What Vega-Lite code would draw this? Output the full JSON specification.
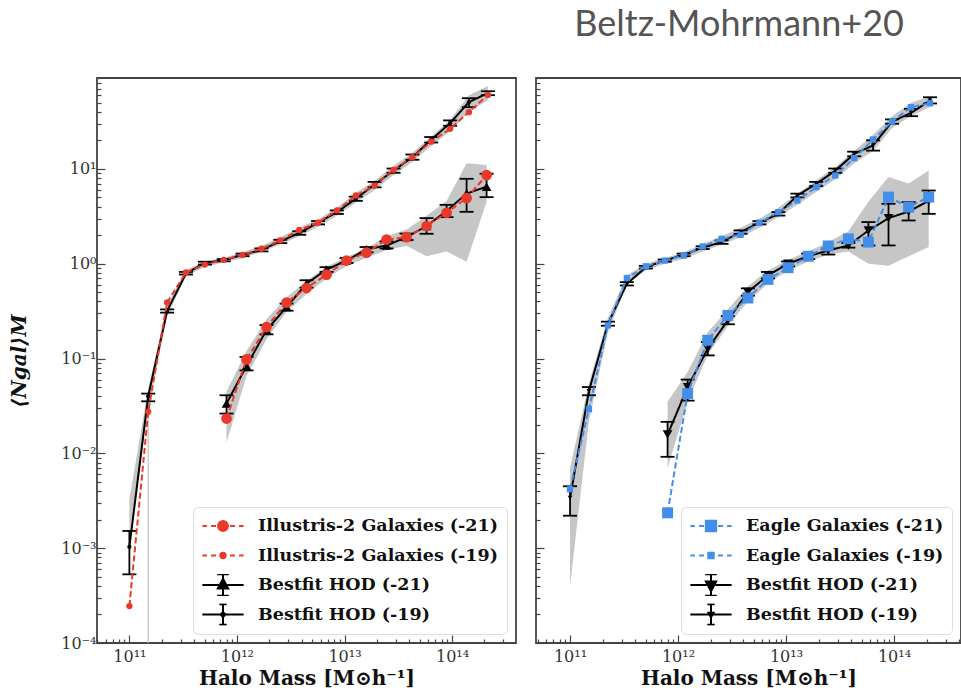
{
  "$schema": "https://vega.github.io/schema/vega-lite/v6.json",
  "padding": {"left": 8, "top": 6, "right": 4, "bottom": 0},
  "background": "white",
  "title": {"text": "Beltz-Mohrmann+20", "anchor": "end", "font": "Lato", "fontSize": 36, "fontWeight": "normal", "color": "#555555", "dx": -58, "offset": 26},
  "config": {
    "view": {"stroke": "#444444", "strokeWidth": 1.8},
    "concat": {"spacing": 17},
    "axis": {"domain": false, "grid": false, "tickColor": "#444444", "tickWidth": 1.2, "labelFont": "DejaVu Serif", "labelFontSize": 16, "labelColor": "#333333", "labelOverlap": false, "labelBound": false, "labelFlush": false, "titleFont": "DejaVu Serif", "titleColor": "#111111"},
    "legend": {"orient": "bottom-right", "offset": 9, "fillColor": "white", "strokeColor": "#dddddd", "cornerRadius": 5, "padding": 8, "labelFont": "DejaVu Serif", "labelFontWeight": "bold", "labelFontSize": 17.5, "labelLimit": 400, "labelColor": "#111111", "symbolSize": 1700, "symbolStrokeWidth": 2, "clipHeight": 22, "rowPadding": 7.5, "labelOffset": 13}
  },
  "datasets": {
    "pts": [
      {"p":"L","k":"sim","g":"21","s":"Illustris-2 Galaxies (-21)","M":8.0e11,"N":0.0233,"blo":0.013,"bhi":0.045},
      {"p":"L","k":"sim","g":"21","s":"Illustris-2 Galaxies (-21)","M":1.227e12,"N":0.098,"blo":0.065,"bhi":0.12},
      {"p":"L","k":"sim","g":"21","s":"Illustris-2 Galaxies (-21)","M":1.884e12,"N":0.215,"blo":0.16,"bhi":0.26},
      {"p":"L","k":"sim","g":"21","s":"Illustris-2 Galaxies (-21)","M":2.891e12,"N":0.39,"blo":0.31,"bhi":0.44},
      {"p":"L","k":"sim","g":"21","s":"Illustris-2 Galaxies (-21)","M":4.436e12,"N":0.554,"blo":0.48,"bhi":0.66},
      {"p":"L","k":"sim","g":"21","s":"Illustris-2 Galaxies (-21)","M":6.808e12,"N":0.766,"blo":0.7,"bhi":0.93},
      {"p":"L","k":"sim","g":"21","s":"Illustris-2 Galaxies (-21)","M":1.045e13,"N":1.08,"blo":0.95,"bhi":1.18},
      {"p":"L","k":"sim","g":"21","s":"Illustris-2 Galaxies (-21)","M":1.603e13,"N":1.31,"blo":1.15,"bhi":1.45},
      {"p":"L","k":"sim","g":"21","s":"Illustris-2 Galaxies (-21)","M":2.46e13,"N":1.8,"blo":1.4,"bhi":1.95},
      {"p":"L","k":"sim","g":"21","s":"Illustris-2 Galaxies (-21)","M":3.776e13,"N":1.91,"blo":1.55,"bhi":2.3},
      {"p":"L","k":"sim","g":"21","s":"Illustris-2 Galaxies (-21)","M":5.794e13,"N":2.5,"blo":1.2,"bhi":3.2},
      {"p":"L","k":"sim","g":"21","s":"Illustris-2 Galaxies (-21)","M":8.892e13,"N":3.45,"blo":1.35,"bhi":4.6},
      {"p":"L","k":"sim","g":"21","s":"Illustris-2 Galaxies (-21)","M":1.365e14,"N":4.92,"blo":1.05,"bhi":11.5},
      {"p":"L","k":"sim","g":"21","s":"Illustris-2 Galaxies (-21)","M":2.094e14,"N":8.6,"blo":4.5,"bhi":11},

      {"p":"L","k":"hod","g":"21","s":"Bestfit HOD (-21)","M":8.0e11,"N":0.0335,"lo":0.0263,"hi":0.041},
      {"p":"L","k":"hod","g":"21","s":"Bestfit HOD (-21)","M":1.227e12,"N":0.0836,"lo":0.075,"hi":0.104},
      {"p":"L","k":"hod","g":"21","s":"Bestfit HOD (-21)","M":1.884e12,"N":0.2,"lo":0.18,"hi":0.226},
      {"p":"L","k":"hod","g":"21","s":"Bestfit HOD (-21)","M":2.891e12,"N":0.35,"lo":0.32,"hi":0.38},
      {"p":"L","k":"hod","g":"21","s":"Bestfit HOD (-21)","M":4.436e12,"N":0.615,"lo":0.56,"hi":0.67},
      {"p":"L","k":"hod","g":"21","s":"Bestfit HOD (-21)","M":6.808e12,"N":0.87,"lo":0.82,"hi":0.92},
      {"p":"L","k":"hod","g":"21","s":"Bestfit HOD (-21)","M":1.045e13,"N":1.08,"lo":1.02,"hi":1.15},
      {"p":"L","k":"hod","g":"21","s":"Bestfit HOD (-21)","M":1.603e13,"N":1.42,"lo":1.32,"hi":1.5},
      {"p":"L","k":"hod","g":"21","s":"Bestfit HOD (-21)","M":2.46e13,"N":1.56,"lo":1.45,"hi":1.72},
      {"p":"L","k":"hod","g":"21","s":"Bestfit HOD (-21)","M":3.776e13,"N":1.91,"lo":1.78,"hi":2.08},
      {"p":"L","k":"hod","g":"21","s":"Bestfit HOD (-21)","M":5.794e13,"N":2.5,"lo":2.07,"hi":3.03},
      {"p":"L","k":"hod","g":"21","s":"Bestfit HOD (-21)","M":8.892e13,"N":3.6,"lo":3.1,"hi":4.18},
      {"p":"L","k":"hod","g":"21","s":"Bestfit HOD (-21)","M":1.365e14,"N":5.5,"lo":3.53,"hi":7.87},
      {"p":"L","k":"hod","g":"21","s":"Bestfit HOD (-21)","M":2.094e14,"N":6.5,"lo":5.04,"hi":8.9},

      {"p":"L","k":"sim","g":"19","s":"Illustris-2 Galaxies (-19)","M":1e11,"N":0.000245,"blo":0.0014,"bhi":0.0033},
      {"p":"L","k":"sim","g":"19","s":"Illustris-2 Galaxies (-19)","M":1.496e11,"N":0.0274,"blo":0.03,"bhi":0.048},
      {"p":"L","k":"sim","g":"19","s":"Illustris-2 Galaxies (-19)","M":2.244e11,"N":0.39,"blo":0.28,"bhi":0.36},
      {"p":"L","k":"sim","g":"19","s":"Illustris-2 Galaxies (-19)","M":3.357e11,"N":0.81,"blo":0.74,"bhi":0.86},
      {"p":"L","k":"sim","g":"19","s":"Illustris-2 Galaxies (-19)","M":5.035e11,"N":0.98,"blo":0.93,"bhi":1.06},
      {"p":"L","k":"sim","g":"19","s":"Illustris-2 Galaxies (-19)","M":7.534e11,"N":1.1,"blo":1.03,"bhi":1.16},
      {"p":"L","k":"sim","g":"19","s":"Illustris-2 Galaxies (-19)","M":1.127e12,"N":1.24,"blo":1.15,"bhi":1.32},
      {"p":"L","k":"sim","g":"19","s":"Illustris-2 Galaxies (-19)","M":1.69e12,"N":1.44,"blo":1.33,"bhi":1.55},
      {"p":"L","k":"sim","g":"19","s":"Illustris-2 Galaxies (-19)","M":2.529e12,"N":1.76,"blo":1.6,"bhi":1.9},
      {"p":"L","k":"sim","g":"19","s":"Illustris-2 Galaxies (-19)","M":3.793e12,"N":2.27,"blo":1.95,"bhi":2.4},
      {"p":"L","k":"sim","g":"19","s":"Illustris-2 Galaxies (-19)","M":5.675e12,"N":2.71,"blo":2.45,"bhi":2.95},
      {"p":"L","k":"sim","g":"19","s":"Illustris-2 Galaxies (-19)","M":8.492e12,"N":3.65,"blo":3.2,"bhi":3.9},
      {"p":"L","k":"sim","g":"19","s":"Illustris-2 Galaxies (-19)","M":1.274e13,"N":5.25,"blo":4.4,"bhi":5.6},
      {"p":"L","k":"sim","g":"19","s":"Illustris-2 Galaxies (-19)","M":1.905e13,"N":6.68,"blo":6.0,"bhi":7.5},
      {"p":"L","k":"sim","g":"19","s":"Illustris-2 Galaxies (-19)","M":2.858e13,"N":9.78,"blo":8.6,"bhi":10.8},
      {"p":"L","k":"sim","g":"19","s":"Illustris-2 Galaxies (-19)","M":4.276e13,"N":13.3,"blo":11.8,"bhi":14.8},
      {"p":"L","k":"sim","g":"19","s":"Illustris-2 Galaxies (-19)","M":6.397e13,"N":19.4,"blo":17.5,"bhi":22},
      {"p":"L","k":"sim","g":"19","s":"Illustris-2 Galaxies (-19)","M":9.594e13,"N":26.5,"blo":25,"bhi":33},
      {"p":"L","k":"sim","g":"19","s":"Illustris-2 Galaxies (-19)","M":1.435e14,"N":39.7,"blo":40,"bhi":60},
      {"p":"L","k":"sim","g":"19","s":"Illustris-2 Galaxies (-19)","M":2.153e14,"N":60.4,"blo":53,"bhi":75},

      {"p":"L","k":"hod","g":"19","s":"Bestfit HOD (-19)","M":1e11,"N":0.00103,"lo":0.00053,"hi":0.00152},
      {"p":"L","k":"hod","g":"19","s":"Bestfit HOD (-19)","M":1.496e11,"N":0.04,"lo":0.0354,"hi":0.0427},
      {"p":"L","k":"hod","g":"19","s":"Bestfit HOD (-19)","M":2.244e11,"N":0.318,"lo":0.305,"hi":0.33},
      {"p":"L","k":"hod","g":"19","s":"Bestfit HOD (-19)","M":3.357e11,"N":0.79,"lo":0.77,"hi":0.82},
      {"p":"L","k":"hod","g":"19","s":"Bestfit HOD (-19)","M":5.035e11,"N":1.02,"lo":0.98,"hi":1.05},
      {"p":"L","k":"hod","g":"19","s":"Bestfit HOD (-19)","M":7.534e11,"N":1.09,"lo":1.06,"hi":1.12},
      {"p":"L","k":"hod","g":"19","s":"Bestfit HOD (-19)","M":1.127e12,"N":1.24,"lo":1.2,"hi":1.28},
      {"p":"L","k":"hod","g":"19","s":"Bestfit HOD (-19)","M":1.69e12,"N":1.4,"lo":1.35,"hi":1.45},
      {"p":"L","k":"hod","g":"19","s":"Bestfit HOD (-19)","M":2.529e12,"N":1.72,"lo":1.65,"hi":1.79},
      {"p":"L","k":"hod","g":"19","s":"Bestfit HOD (-19)","M":3.793e12,"N":2.11,"lo":2.02,"hi":2.2},
      {"p":"L","k":"hod","g":"19","s":"Bestfit HOD (-19)","M":5.675e12,"N":2.71,"lo":2.6,"hi":2.82},
      {"p":"L","k":"hod","g":"19","s":"Bestfit HOD (-19)","M":8.492e12,"N":3.5,"lo":3.35,"hi":3.65},
      {"p":"L","k":"hod","g":"19","s":"Bestfit HOD (-19)","M":1.274e13,"N":4.84,"lo":4.6,"hi":5.1},
      {"p":"L","k":"hod","g":"19","s":"Bestfit HOD (-19)","M":1.905e13,"N":6.85,"lo":6.4,"hi":7.3},
      {"p":"L","k":"hod","g":"19","s":"Bestfit HOD (-19)","M":2.858e13,"N":9.6,"lo":9.1,"hi":10.1},
      {"p":"L","k":"hod","g":"19","s":"Bestfit HOD (-19)","M":4.276e13,"N":13.3,"lo":12.5,"hi":14.2},
      {"p":"L","k":"hod","g":"19","s":"Bestfit HOD (-19)","M":6.397e13,"N":20.3,"lo":19,"hi":21.7},
      {"p":"L","k":"hod","g":"19","s":"Bestfit HOD (-19)","M":9.594e13,"N":30.4,"lo":28.5,"hi":32.5},
      {"p":"L","k":"hod","g":"19","s":"Bestfit HOD (-19)","M":1.435e14,"N":50.6,"lo":44.8,"hi":55.7},
      {"p":"L","k":"hod","g":"19","s":"Bestfit HOD (-19)","M":2.153e14,"N":62.9,"lo":60,"hi":66},

      {"p":"R","k":"sim","g":"21","s":"Eagle Galaxies (-21)","M":8.0e11,"N":0.00236,"blo":0.007,"bhi":0.035},
      {"p":"R","k":"sim","g":"21","s":"Eagle Galaxies (-21)","M":1.227e12,"N":0.0427,"blo":0.035,"bhi":0.072},
      {"p":"R","k":"sim","g":"21","s":"Eagle Galaxies (-21)","M":1.884e12,"N":0.156,"blo":0.11,"bhi":0.19},
      {"p":"R","k":"sim","g":"21","s":"Eagle Galaxies (-21)","M":2.891e12,"N":0.285,"blo":0.22,"bhi":0.33},
      {"p":"R","k":"sim","g":"21","s":"Eagle Galaxies (-21)","M":4.436e12,"N":0.435,"blo":0.4,"bhi":0.58},
      {"p":"R","k":"sim","g":"21","s":"Eagle Galaxies (-21)","M":6.808e12,"N":0.684,"blo":0.62,"bhi":0.85},
      {"p":"R","k":"sim","g":"21","s":"Eagle Galaxies (-21)","M":1.045e13,"N":0.908,"blo":0.85,"bhi":1.1},
      {"p":"R","k":"sim","g":"21","s":"Eagle Galaxies (-21)","M":1.603e13,"N":1.2,"blo":1.05,"bhi":1.35},
      {"p":"R","k":"sim","g":"21","s":"Eagle Galaxies (-21)","M":2.46e13,"N":1.54,"blo":1.25,"bhi":1.7},
      {"p":"R","k":"sim","g":"21","s":"Eagle Galaxies (-21)","M":3.776e13,"N":1.83,"blo":1.35,"bhi":2.2},
      {"p":"R","k":"sim","g":"21","s":"Eagle Galaxies (-21)","M":5.794e13,"N":1.69,"blo":1.0,"bhi":4.5},
      {"p":"R","k":"sim","g":"21","s":"Eagle Galaxies (-21)","M":8.892e13,"N":5.05,"blo":0.95,"bhi":8.2},
      {"p":"R","k":"sim","g":"21","s":"Eagle Galaxies (-21)","M":1.365e14,"N":3.96,"blo":1.2,"bhi":7.0},
      {"p":"R","k":"sim","g":"21","s":"Eagle Galaxies (-21)","M":2.094e14,"N":5.05,"blo":1.5,"bhi":9.6},

      {"p":"R","k":"hod","g":"21","s":"Bestfit HOD (-21)","M":8.0e11,"N":0.0158,"lo":0.0092,"hi":0.0215},
      {"p":"R","k":"hod","g":"21","s":"Bestfit HOD (-21)","M":1.227e12,"N":0.05,"lo":0.036,"hi":0.06},
      {"p":"R","k":"hod","g":"21","s":"Bestfit HOD (-21)","M":1.884e12,"N":0.127,"lo":0.108,"hi":0.15},
      {"p":"R","k":"hod","g":"21","s":"Bestfit HOD (-21)","M":2.891e12,"N":0.253,"lo":0.23,"hi":0.28},
      {"p":"R","k":"hod","g":"21","s":"Bestfit HOD (-21)","M":4.436e12,"N":0.503,"lo":0.46,"hi":0.55},
      {"p":"R","k":"hod","g":"21","s":"Bestfit HOD (-21)","M":6.808e12,"N":0.753,"lo":0.7,"hi":0.82},
      {"p":"R","k":"hod","g":"21","s":"Bestfit HOD (-21)","M":1.045e13,"N":1.0,"lo":0.94,"hi":1.06},
      {"p":"R","k":"hod","g":"21","s":"Bestfit HOD (-21)","M":1.603e13,"N":1.2,"lo":1.12,"hi":1.28},
      {"p":"R","k":"hod","g":"21","s":"Bestfit HOD (-21)","M":2.46e13,"N":1.38,"lo":1.25,"hi":1.45},
      {"p":"R","k":"hod","g":"21","s":"Bestfit HOD (-21)","M":3.776e13,"N":1.56,"lo":1.48,"hi":1.65},
      {"p":"R","k":"hod","g":"21","s":"Bestfit HOD (-21)","M":5.794e13,"N":2.24,"lo":1.56,"hi":2.75},
      {"p":"R","k":"hod","g":"21","s":"Bestfit HOD (-21)","M":8.892e13,"N":3.03,"lo":1.56,"hi":4.29},
      {"p":"R","k":"hod","g":"21","s":"Bestfit HOD (-21)","M":1.365e14,"N":3.56,"lo":2.86,"hi":4.47},
      {"p":"R","k":"hod","g":"21","s":"Bestfit HOD (-21)","M":2.094e14,"N":4.6,"lo":3.36,"hi":5.92},

      {"p":"R","k":"sim","g":"19","s":"Eagle Galaxies (-19)","M":1e11,"N":0.00419,"blo":0.0004,"bhi":0.007},
      {"p":"R","k":"sim","g":"19","s":"Eagle Galaxies (-19)","M":1.496e11,"N":0.0292,"blo":0.022,"bhi":0.055},
      {"p":"R","k":"sim","g":"19","s":"Eagle Galaxies (-19)","M":2.244e11,"N":0.224,"blo":0.19,"bhi":0.27},
      {"p":"R","k":"sim","g":"19","s":"Eagle Galaxies (-19)","M":3.357e11,"N":0.707,"blo":0.6,"bhi":0.75},
      {"p":"R","k":"sim","g":"19","s":"Eagle Galaxies (-19)","M":5.035e11,"N":0.94,"blo":0.85,"bhi":1.0},
      {"p":"R","k":"sim","g":"19","s":"Eagle Galaxies (-19)","M":7.534e11,"N":1.08,"blo":1.0,"bhi":1.15},
      {"p":"R","k":"sim","g":"19","s":"Eagle Galaxies (-19)","M":1.127e12,"N":1.22,"blo":1.12,"bhi":1.32},
      {"p":"R","k":"sim","g":"19","s":"Eagle Galaxies (-19)","M":1.69e12,"N":1.52,"blo":1.35,"bhi":1.62},
      {"p":"R","k":"sim","g":"19","s":"Eagle Galaxies (-19)","M":2.529e12,"N":1.83,"blo":1.6,"bhi":1.95},
      {"p":"R","k":"sim","g":"19","s":"Eagle Galaxies (-19)","M":3.793e12,"N":2.02,"blo":1.9,"bhi":2.4},
      {"p":"R","k":"sim","g":"19","s":"Eagle Galaxies (-19)","M":5.675e12,"N":2.71,"blo":2.4,"bhi":3.0},
      {"p":"R","k":"sim","g":"19","s":"Eagle Galaxies (-19)","M":8.492e12,"N":3.5,"blo":3.1,"bhi":3.9},
      {"p":"R","k":"sim","g":"19","s":"Eagle Galaxies (-19)","M":1.274e13,"N":4.65,"blo":4.2,"bhi":5.5},
      {"p":"R","k":"sim","g":"19","s":"Eagle Galaxies (-19)","M":1.905e13,"N":6.43,"blo":5.7,"bhi":7.6},
      {"p":"R","k":"sim","g":"19","s":"Eagle Galaxies (-19)","M":2.858e13,"N":8.52,"blo":7.8,"bhi":10.5},
      {"p":"R","k":"sim","g":"19","s":"Eagle Galaxies (-19)","M":4.276e13,"N":13.0,"blo":11.5,"bhi":15.5},
      {"p":"R","k":"sim","g":"19","s":"Eagle Galaxies (-19)","M":6.397e13,"N":20.4,"blo":15.5,"bhi":23},
      {"p":"R","k":"sim","g":"19","s":"Eagle Galaxies (-19)","M":9.594e13,"N":31.6,"blo":27,"bhi":36},
      {"p":"R","k":"sim","g":"19","s":"Eagle Galaxies (-19)","M":1.435e14,"N":44.8,"blo":36,"bhi":50},
      {"p":"R","k":"sim","g":"19","s":"Eagle Galaxies (-19)","M":2.153e14,"N":49.3,"blo":45,"bhi":58},

      {"p":"R","k":"hod","g":"19","s":"Bestfit HOD (-19)","M":1e11,"N":0.0034,"lo":0.0022,"hi":0.0045},
      {"p":"R","k":"hod","g":"19","s":"Bestfit HOD (-19)","M":1.496e11,"N":0.0455,"lo":0.041,"hi":0.05},
      {"p":"R","k":"hod","g":"19","s":"Bestfit HOD (-19)","M":2.244e11,"N":0.233,"lo":0.222,"hi":0.245},
      {"p":"R","k":"hod","g":"19","s":"Bestfit HOD (-19)","M":3.357e11,"N":0.615,"lo":0.59,"hi":0.64},
      {"p":"R","k":"hod","g":"19","s":"Bestfit HOD (-19)","M":5.035e11,"N":0.92,"lo":0.89,"hi":0.95},
      {"p":"R","k":"hod","g":"19","s":"Bestfit HOD (-19)","M":7.534e11,"N":1.08,"lo":1.05,"hi":1.11},
      {"p":"R","k":"hod","g":"19","s":"Bestfit HOD (-19)","M":1.127e12,"N":1.24,"lo":1.2,"hi":1.28},
      {"p":"R","k":"hod","g":"19","s":"Bestfit HOD (-19)","M":1.69e12,"N":1.48,"lo":1.43,"hi":1.53},
      {"p":"R","k":"hod","g":"19","s":"Bestfit HOD (-19)","M":2.529e12,"N":1.69,"lo":1.62,"hi":1.76},
      {"p":"R","k":"hod","g":"19","s":"Bestfit HOD (-19)","M":3.793e12,"N":2.16,"lo":2.07,"hi":2.25},
      {"p":"R","k":"hod","g":"19","s":"Bestfit HOD (-19)","M":5.675e12,"N":2.71,"lo":2.6,"hi":2.82},
      {"p":"R","k":"hod","g":"19","s":"Bestfit HOD (-19)","M":8.492e12,"N":3.36,"lo":3.22,"hi":3.5},
      {"p":"R","k":"hod","g":"19","s":"Bestfit HOD (-19)","M":1.274e13,"N":5.25,"lo":5.0,"hi":5.5},
      {"p":"R","k":"hod","g":"19","s":"Bestfit HOD (-19)","M":1.905e13,"N":6.96,"lo":6.6,"hi":7.3},
      {"p":"R","k":"hod","g":"19","s":"Bestfit HOD (-19)","M":2.858e13,"N":9.6,"lo":9.1,"hi":10.1},
      {"p":"R","k":"hod","g":"19","s":"Bestfit HOD (-19)","M":4.276e13,"N":14.4,"lo":13.6,"hi":15.2},
      {"p":"R","k":"hod","g":"19","s":"Bestfit HOD (-19)","M":6.397e13,"N":17.7,"lo":15.6,"hi":20},
      {"p":"R","k":"hod","g":"19","s":"Bestfit HOD (-19)","M":9.594e13,"N":31.6,"lo":30,"hi":33.3},
      {"p":"R","k":"hod","g":"19","s":"Bestfit HOD (-19)","M":1.435e14,"N":39,"lo":36,"hi":43},
      {"p":"R","k":"hod","g":"19","s":"Bestfit HOD (-19)","M":2.153e14,"N":52.6,"lo":49,"hi":57}
    ],
    "drop": [
      {"p":"L","M":1.496e11,"y1":0.0001,"y2":0.03}
    ]
  },
  "hconcat": [
    {
      "width": 419,
      "height": 565,
      "encoding": {
        "x": {"field": "M", "type": "quantitative",
          "scale": {"type": "log", "domain": [5.0e10, 3.93e14], "nice": false},
          "axis": {
            "title": "Halo Mass [M⊙h⁻¹]", "titleFontSize": 20, "titleFontWeight": "bold", "titlePadding": 0,
            "values": [5e10,6e10,7e10,8e10,9e10,1e11,2e11,3e11,4e11,5e11,6e11,7e11,8e11,9e11,1e12,2e12,3e12,4e12,5e12,6e12,7e12,8e12,9e12,1e13,2e13,3e13,4e13,5e13,6e13,7e13,8e13,9e13,1e14,2e14,3e14],
            "labelExpr": "datum.value === 1e11 ? '10¹¹' : datum.value === 1e12 ? '10¹²' : datum.value === 1e13 ? '10¹³' : datum.value === 1e14 ? '10¹⁴' : ''",
            "tickSize": {"condition": {"test": "abs(log(datum.value)/LN10 - round(log(datum.value)/LN10)) < 0.000001", "value": -8}, "value": -4},
            "labelPadding": 13
          }
        }
      },
      "layer": [
        {
          "data": {"name": "pts"},
          "transform": [{"filter": "datum.p === 'L' && datum.k === 'sim'"}],
          "mark": {"type": "area", "color": "#c6c6c6", "opacity": 1},
          "encoding": {
            "y": {"field": "blo", "type": "quantitative",
              "scale": {"type": "log", "domain": [0.0001, 91], "nice": false},
              "axis": {
                "title": "⟨Ngal⟩M", "titleFontSize": 20, "titleFontStyle": "italic", "titleFontWeight": "bold", "titlePadding": 31,
                "values": [0.0001,0.0002,0.0003,0.0004,0.0005,0.0006,0.0007,0.0008,0.0009,0.001,0.002,0.003,0.004,0.005,0.006,0.007,0.008,0.009,0.01,0.02,0.03,0.04,0.05,0.06,0.07,0.08,0.09,0.1,0.2,0.3,0.4,0.5,0.6,0.7,0.8,0.9,1,2,3,4,5,6,7,8,9,10,20,30,40,50,60,70,80,90],
                "labelExpr": "datum.value === 10 ? '10¹' : datum.value === 1 ? '10⁰' : datum.value === 0.1 ? '10⁻¹' : datum.value === 0.01 ? '10⁻²' : datum.value === 0.001 ? '10⁻³' : datum.value === 0.0001 ? '10⁻⁴' : ''",
                "tickSize": {"condition": {"test": "abs(log(datum.value)/LN10 - round(log(datum.value)/LN10)) < 0.000001", "value": -8}, "value": -4},
                "labelPadding": 9
              }},
            "y2": {"field": "bhi"},
            "detail": {"field": "g"}
          }
        },
        {
          "data": {"name": "drop"},
          "mark": {"type": "rule", "color": "#c0c0c0", "strokeWidth": 1.2},
          "encoding": {
            "y": {"field": "y1", "type": "quantitative", "scale": {"type": "log", "domain": [0.0001, 91], "nice": false}},
            "y2": {"field": "y2"}
          }
        },
        {
          "data": {"name": "pts"},
          "transform": [{"filter": "datum.p === 'L' && datum.k === 'hod'"}],
          "mark": {"type": "rule", "color": "black", "strokeWidth": 1.8},
          "encoding": {
            "y": {"field": "lo", "type": "quantitative", "scale": {"type": "log", "domain": [0.0001, 91], "nice": false}},
            "y2": {"field": "hi"}
          }
        },
        {
          "data": {"name": "pts"},
          "transform": [{"filter": "datum.p === 'L' && datum.k === 'hod'"}],
          "mark": {"type": "tick", "orient": "horizontal", "color": "black", "size": 14, "thickness": 1.8, "opacity": 1},
          "encoding": {
            "y": {"field": "lo", "type": "quantitative", "scale": {"type": "log", "domain": [0.0001, 91], "nice": false}}
          }
        },
        {
          "data": {"name": "pts"},
          "transform": [{"filter": "datum.p === 'L' && datum.k === 'hod'"}],
          "mark": {"type": "tick", "orient": "horizontal", "color": "black", "size": 14, "thickness": 1.8, "opacity": 1},
          "encoding": {
            "y": {"field": "hi", "type": "quantitative", "scale": {"type": "log", "domain": [0.0001, 91], "nice": false}}
          }
        },
        {
          "data": {"name": "pts"},
          "transform": [{"filter": "datum.p === 'L' && datum.k === 'hod'"}],
          "mark": {"type": "line", "strokeWidth": 2},
          "encoding": {
            "y": {"field": "N", "type": "quantitative", "scale": {"type": "log", "domain": [0.0001, 91], "nice": false}},
            "color": {"field": "s", "type": "nominal",
              "scale": {"domain": ["Illustris-2 Galaxies (-21)", "Illustris-2 Galaxies (-19)", "Bestfit HOD (-21)", "Bestfit HOD (-19)"], "range": ["#e8392b", "#e8392b", "#000000", "#000000"]},
              "legend": {
                "title": null,
                "labelFont": "DejaVu Serif", "labelFontWeight": "bold", "labelFontSize": 17.5, "labelLimit": 400,
                "encode": {
                  "symbols": {
                    "update": {
                      "shape": [
                        {"test": "datum.value === 'Illustris-2 Galaxies (-21)'", "value": "M-1,0H-0.78M-0.58,0H-0.34M0.34,0H0.58M0.78,0H1M-0.24,0A0.24,0.24 0 1,1 0.24,0A0.24,0.24 0 1,1 -0.24,0Z"},
                        {"test": "datum.value === 'Illustris-2 Galaxies (-19)'", "value": "M-1,0H-0.78M-0.58,0H-0.34M-0.16,0H0.16M0.34,0H0.58M0.78,0H1M-0.13,0A0.13,0.13 0 1,1 0.13,0A0.13,0.13 0 1,1 -0.13,0Z"},
                        {"test": "datum.value === 'Bestfit HOD (-21)'", "value": "M-1,0H1M0,-0.52V0.52M-0.28,-0.52H0.28M-0.28,0.52H0.28M0,-0.3L0.25,0.17L-0.25,0.17Z"},
                        {"value": "M-1,0H1M0,-0.5V0.5M-0.18,-0.5H0.18M-0.18,0.5H0.18M-0.09,0A0.09,0.09 0 1,1 0.09,0A0.09,0.09 0 1,1 -0.09,0Z"}
                      ],
                      "fill": [
                        {"test": "indexof(datum.value, 'Galaxies') >= 0", "value": "#e8392b"},
                        {"value": "#000000"}
                      ],
                      "stroke": [
                        {"test": "indexof(datum.value, 'Galaxies') >= 0", "value": "#e8392b"},
                        {"value": "#000000"}
                      ],
                      "strokeWidth": {"value": 2},
                      "opacity": {"value": 1}
                    }
                  }
                }
              }
            },
            "detail": {"field": "s"}
          }
        },
        {
          "data": {"name": "pts"},
          "transform": [{"filter": "datum.p === 'L' && datum.k === 'hod' && datum.g === '21'"}],
          "mark": {"type": "point", "shape": "triangle-up", "filled": true, "size": 95, "opacity": 1},
          "encoding": {
            "y": {"field": "N", "type": "quantitative", "scale": {"type": "log", "domain": [0.0001, 91], "nice": false}},
            "color": {"field": "s", "type": "nominal"}
          }
        },
        {
          "data": {"name": "pts"},
          "transform": [{"filter": "datum.p === 'L' && datum.k === 'hod' && datum.g === '19'"}],
          "mark": {"type": "point", "shape": "circle", "filled": true, "size": 18, "opacity": 1},
          "encoding": {
            "y": {"field": "N", "type": "quantitative", "scale": {"type": "log", "domain": [0.0001, 91], "nice": false}},
            "color": {"field": "s", "type": "nominal"}
          }
        },
        {
          "data": {"name": "pts"},
          "transform": [{"filter": "datum.p === 'L' && datum.k === 'sim'"}],
          "mark": {"type": "line", "strokeWidth": 2, "strokeDash": [6, 3]},
          "encoding": {
            "y": {"field": "N", "type": "quantitative", "scale": {"type": "log", "domain": [0.0001, 91], "nice": false}},
            "color": {"field": "s", "type": "nominal"},
            "detail": {"field": "s"}
          }
        },
        {
          "data": {"name": "pts"},
          "transform": [{"filter": "datum.p === 'L' && datum.k === 'sim' && datum.g === '21'"}],
          "mark": {"type": "point", "shape": "circle", "filled": true, "size": 115, "opacity": 1},
          "encoding": {
            "y": {"field": "N", "type": "quantitative", "scale": {"type": "log", "domain": [0.0001, 91], "nice": false}},
            "color": {"field": "s", "type": "nominal"}
          }
        },
        {
          "data": {"name": "pts"},
          "transform": [{"filter": "datum.p === 'L' && datum.k === 'sim' && datum.g === '19'"}],
          "mark": {"type": "point", "shape": "circle", "filled": true, "size": 40, "opacity": 1},
          "encoding": {
            "y": {"field": "N", "type": "quantitative", "scale": {"type": "log", "domain": [0.0001, 91], "nice": false}},
            "color": {"field": "s", "type": "nominal"}
          }
        }
      ]
    },
    {
      "width": 425,
      "height": 565,
      "encoding": {
        "x": {"field": "M", "type": "quantitative",
          "scale": {"type": "log", "domain": [4.84e10, 4.17e14], "nice": false},
          "axis": {
            "title": "Halo Mass [M⊙h⁻¹]", "titleFontSize": 20, "titleFontWeight": "bold", "titlePadding": 0,
            "values": [5e10,6e10,7e10,8e10,9e10,1e11,2e11,3e11,4e11,5e11,6e11,7e11,8e11,9e11,1e12,2e12,3e12,4e12,5e12,6e12,7e12,8e12,9e12,1e13,2e13,3e13,4e13,5e13,6e13,7e13,8e13,9e13,1e14,2e14,3e14,4e14],
            "labelExpr": "datum.value === 1e11 ? '10¹¹' : datum.value === 1e12 ? '10¹²' : datum.value === 1e13 ? '10¹³' : datum.value === 1e14 ? '10¹⁴' : ''",
            "tickSize": {"condition": {"test": "abs(log(datum.value)/LN10 - round(log(datum.value)/LN10)) < 0.000001", "value": -8}, "value": -4},
            "labelPadding": 13
          }
        }
      },
      "layer": [
        {
          "data": {"name": "pts"},
          "transform": [{"filter": "datum.p === 'R' && datum.k === 'sim'"}],
          "mark": {"type": "area", "color": "#c6c6c6", "opacity": 1},
          "encoding": {
            "y": {"field": "blo", "type": "quantitative",
              "scale": {"type": "log", "domain": [0.0001, 91], "nice": false},
              "axis": {
                "title": null, "labels": false,
                "values": [0.0001,0.0002,0.0003,0.0004,0.0005,0.0006,0.0007,0.0008,0.0009,0.001,0.002,0.003,0.004,0.005,0.006,0.007,0.008,0.009,0.01,0.02,0.03,0.04,0.05,0.06,0.07,0.08,0.09,0.1,0.2,0.3,0.4,0.5,0.6,0.7,0.8,0.9,1,2,3,4,5,6,7,8,9,10,20,30,40,50,60,70,80,90],
                "tickSize": {"condition": {"test": "abs(log(datum.value)/LN10 - round(log(datum.value)/LN10)) < 0.000001", "value": -8}, "value": -4}
              }},
            "y2": {"field": "bhi"},
            "detail": {"field": "g"}
          }
        },
        {
          "data": {"name": "pts"},
          "transform": [{"filter": "datum.p === 'R' && datum.k === 'hod'"}],
          "mark": {"type": "rule", "color": "black", "strokeWidth": 1.8},
          "encoding": {
            "y": {"field": "lo", "type": "quantitative", "scale": {"type": "log", "domain": [0.0001, 91], "nice": false}},
            "y2": {"field": "hi"}
          }
        },
        {
          "data": {"name": "pts"},
          "transform": [{"filter": "datum.p === 'R' && datum.k === 'hod'"}],
          "mark": {"type": "tick", "orient": "horizontal", "color": "black", "size": 14, "thickness": 1.8, "opacity": 1},
          "encoding": {
            "y": {"field": "lo", "type": "quantitative", "scale": {"type": "log", "domain": [0.0001, 91], "nice": false}}
          }
        },
        {
          "data": {"name": "pts"},
          "transform": [{"filter": "datum.p === 'R' && datum.k === 'hod'"}],
          "mark": {"type": "tick", "orient": "horizontal", "color": "black", "size": 14, "thickness": 1.8, "opacity": 1},
          "encoding": {
            "y": {"field": "hi", "type": "quantitative", "scale": {"type": "log", "domain": [0.0001, 91], "nice": false}}
          }
        },
        {
          "data": {"name": "pts"},
          "transform": [{"filter": "datum.p === 'R' && datum.k === 'hod'"}],
          "mark": {"type": "line", "strokeWidth": 2},
          "encoding": {
            "y": {"field": "N", "type": "quantitative", "scale": {"type": "log", "domain": [0.0001, 91], "nice": false}},
            "color": {"field": "s", "type": "nominal",
              "scale": {"domain": ["Eagle Galaxies (-21)", "Eagle Galaxies (-19)", "Bestfit HOD (-21)", "Bestfit HOD (-19)"], "range": ["#428ee8", "#428ee8", "#000000", "#000000"]},
              "legend": {
                "title": null,
                "labelFont": "DejaVu Serif", "labelFontWeight": "bold", "labelFontSize": 17.5, "labelLimit": 400,
                "encode": {
                  "symbols": {
                    "update": {
                      "shape": [
                        {"test": "datum.value === 'Eagle Galaxies (-21)'", "value": "M-1,0H-0.78M-0.58,0H-0.34M0.34,0H0.58M0.78,0H1M-0.25,-0.25H0.25V0.25H-0.25Z"},
                        {"test": "datum.value === 'Eagle Galaxies (-19)'", "value": "M-1,0H-0.78M-0.58,0H-0.34M-0.16,0H0.16M0.34,0H0.58M0.78,0H1M-0.13,-0.13H0.13V0.13H-0.13Z"},
                        {"test": "datum.value === 'Bestfit HOD (-21)'", "value": "M-1,0H1M0,-0.52V0.52M-0.28,-0.52H0.28M-0.28,0.52H0.28M0,0.3L0.25,-0.17L-0.25,-0.17Z"},
                        {"value": "M-1,0H1M0,-0.5V0.5M-0.18,-0.5H0.18M-0.18,0.5H0.18M0,0.14L0.12,-0.08L-0.12,-0.08Z"}
                      ],
                      "fill": [
                        {"test": "indexof(datum.value, 'Galaxies') >= 0", "value": "#428ee8"},
                        {"value": "#000000"}
                      ],
                      "stroke": [
                        {"test": "indexof(datum.value, 'Galaxies') >= 0", "value": "#428ee8"},
                        {"value": "#000000"}
                      ],
                      "strokeWidth": {"value": 2},
                      "opacity": {"value": 1}
                    }
                  }
                }
              }
            },
            "detail": {"field": "s"}
          }
        },
        {
          "data": {"name": "pts"},
          "transform": [{"filter": "datum.p === 'R' && datum.k === 'hod' && datum.g === '21'"}],
          "mark": {"type": "point", "shape": "triangle-down", "filled": true, "size": 95, "opacity": 1},
          "encoding": {
            "y": {"field": "N", "type": "quantitative", "scale": {"type": "log", "domain": [0.0001, 91], "nice": false}},
            "color": {"field": "s", "type": "nominal"}
          }
        },
        {
          "data": {"name": "pts"},
          "transform": [{"filter": "datum.p === 'R' && datum.k === 'hod' && datum.g === '19'"}],
          "mark": {"type": "point", "shape": "triangle-down", "filled": true, "size": 22, "opacity": 1},
          "encoding": {
            "y": {"field": "N", "type": "quantitative", "scale": {"type": "log", "domain": [0.0001, 91], "nice": false}},
            "color": {"field": "s", "type": "nominal"}
          }
        },
        {
          "data": {"name": "pts"},
          "transform": [{"filter": "datum.p === 'R' && datum.k === 'sim'"}],
          "mark": {"type": "line", "strokeWidth": 2, "strokeDash": [6, 3]},
          "encoding": {
            "y": {"field": "N", "type": "quantitative", "scale": {"type": "log", "domain": [0.0001, 91], "nice": false}},
            "color": {"field": "s", "type": "nominal"},
            "detail": {"field": "s"}
          }
        },
        {
          "data": {"name": "pts"},
          "transform": [{"filter": "datum.p === 'R' && datum.k === 'sim' && datum.g === '21'"}],
          "mark": {"type": "point", "shape": "square", "filled": true, "size": 120, "opacity": 1},
          "encoding": {
            "y": {"field": "N", "type": "quantitative", "scale": {"type": "log", "domain": [0.0001, 91], "nice": false}},
            "color": {"field": "s", "type": "nominal"}
          }
        },
        {
          "data": {"name": "pts"},
          "transform": [{"filter": "datum.p === 'R' && datum.k === 'sim' && datum.g === '19'"}],
          "mark": {"type": "point", "shape": "square", "filled": true, "size": 40, "opacity": 1},
          "encoding": {
            "y": {"field": "N", "type": "quantitative", "scale": {"type": "log", "domain": [0.0001, 91], "nice": false}},
            "color": {"field": "s", "type": "nominal"}
          }
        }
      ]
    }
  ],
  "resolve": {"scale": {"color": "independent", "y": "independent", "x": "independent"}, "legend": {"color": "independent"}}
}
